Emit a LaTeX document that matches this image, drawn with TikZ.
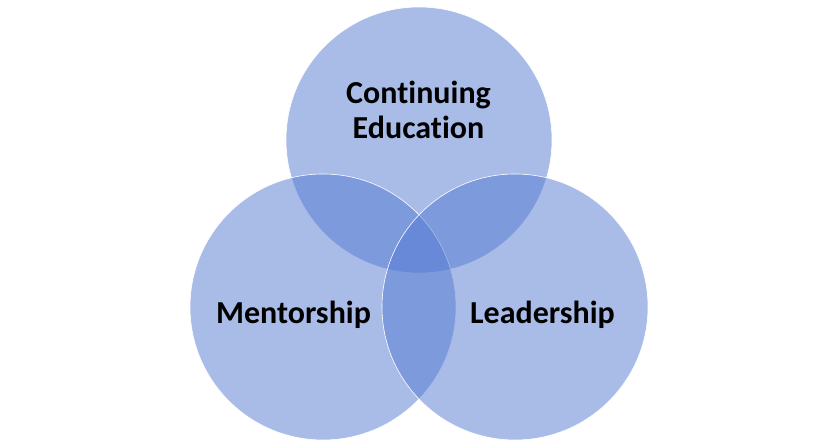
\documentclass[tikz,border=0pt]{standalone}
\usepackage{fontspec}
\setmainfont{Carlito}[Ligatures=NoCommon]
\usepackage{xcolor}
\usepackage{tikz}
\definecolor{vennblue}{RGB}{83,121,209}

\begin{document}
\begin{tikzpicture}[
      ring/.style={circle, draw=white, line width=0.6pt, fill=vennblue,
                   fill opacity=0.5, minimum size=266pt, inner sep=0pt},
      lbl/.style={align=center, font=\fontsize{32}{35}\selectfont\bfseries,
                  text=black, inner sep=0pt},
      x=1pt, y=1pt]
    \useasboundingbox (0,0) rectangle (838,446);
    % circles (top, left, right)
    \node[ring] (edu)  at (419,306) {};
    \node[ring] (ment) at (323,139) {};
    \node[ring] (lead) at (515,139) {};
    % labels
    \node[lbl] (edut)  at (418.5,336.5) {Continuing\\Education};
    \node[lbl, anchor=base] (mentt) at (293.5,122) {Mentorship};
    \node[lbl, anchor=base] (leadt) at (542.5,122) {Leadership};
  \end{tikzpicture}
\end{document}
